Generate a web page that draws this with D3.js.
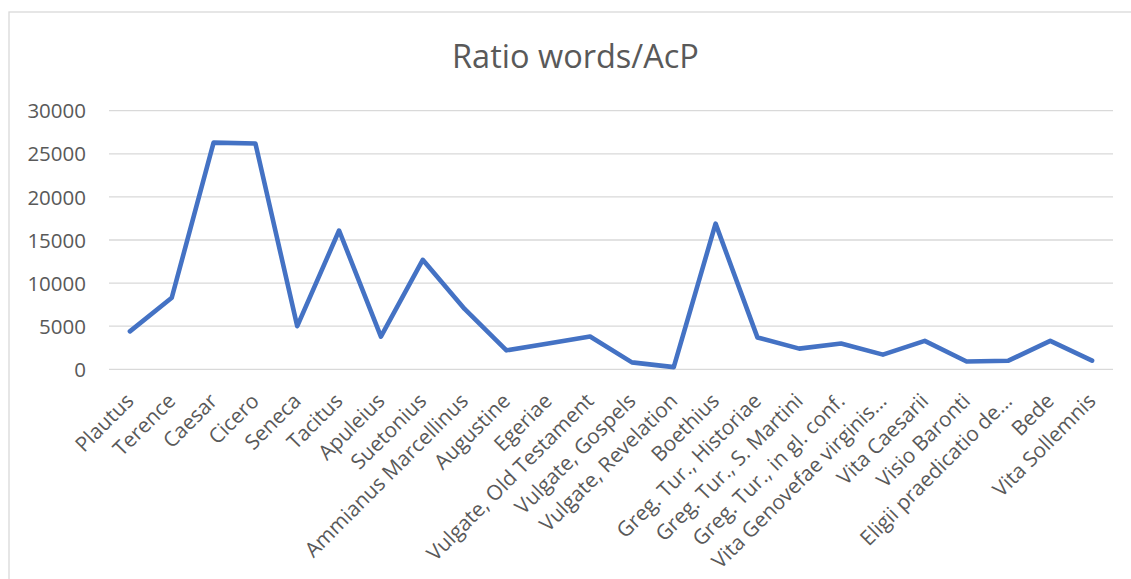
<!DOCTYPE html>
<html>
<head>
<meta charset="utf-8">
<script src="https://cdn.jsdelivr.net/npm/d3@7"></script>
<style>
  html, body { margin: 0; padding: 0; background: #ffffff; }
  svg { display: block; }
  text { font-family: "Open Sans", "Noto Sans", sans-serif; fill: #595959; }
</style>
</head>
<body>
<svg id="chart" width="1131" height="579"></svg>
<script>
// Texts in the corpus
const categories = [
  "Plautus", "Terence", "Caesar", "Cicero", "Seneca", "Tacitus", "Apuleius",
  "Suetonius", "Ammianus Marcellinus", "Augustine", "Egeriae",
  "Vulgate, Old Testament", "Vulgate, Gospels", "Vulgate, Revelation",
  "Boethius", "Greg. Tur., Historiae", "Greg. Tur., S. Martini",
  "Greg. Tur., in gl. conf.", "Vita Genovefae virginis...", "Vita Caesarii",
  "Visio Baronti", "Eligii praedicatio de...", "Bede", "Vita Sollemnis"
];

// Ratio of words per AcP for each text
const ratios = [
  4400, 8300, 26300, 26200, 5000, 16100, 3800,
  12700, 7000, 2200, 3000,
  3800, 800, 250,
  16900, 3700, 2400,
  3000, 1700, 3300,
  900, 1000, 3300, 1000
];

const yTicks = [0, 5000, 10000, 15000, 20000, 25000, 30000];
const title = "Ratio words/AcP";

const svg = d3.select("#chart");

// chart frame
svg.append("rect")
  .attr("x", 9).attr("y", 12)
  .attr("width", 1140).attr("height", 600)
  .attr("fill", "#ffffff")
  .attr("stroke", "#d9d9d9")
  .attr("stroke-width", 1.3);

const plot = { left: 109, right: 1113, top: 110.7, bottom: 369.3 };

const x = d3.scaleBand()
  .domain(categories)
  .range([plot.left, plot.right])
  .padding(0);

const y = d3.scaleLinear()
  .domain([0, 30000])
  .range([plot.bottom, plot.top]);

// horizontal gridlines
svg.append("g")
  .selectAll("line")
  .data(yTicks)
  .join("line")
  .attr("x1", plot.left).attr("x2", plot.right)
  .attr("y1", d => y(d)).attr("y2", d => y(d))
  .attr("stroke", "#d9d9d9")
  .attr("stroke-width", 1.3);

// value axis labels
const yAxis = d3.axisLeft(y).tickValues(yTicks).tickSize(0).tickPadding(0)
  .tickFormat(d3.format("d"));
svg.append("g")
  .attr("transform", `translate(86,0)`)
  .call(yAxis)
  .call(g => g.select(".domain").remove())
  .call(g => g.selectAll("text")
    .attr("font-size", 20.5)
    .attr("font-family", "'Open Sans', sans-serif")
    .attr("fill", "#595959")
    .attr("dy", "0.35em"));

// category labels, rotated
const xAxis = d3.axisBottom(x).tickSize(0).tickPadding(0);
svg.append("g")
  .attr("transform", `translate(0,${plot.bottom})`)
  .call(xAxis)
  .call(g => g.select(".domain").remove())
  .call(g => g.selectAll(".tick text")
    .attr("font-size", 20.8)
    .attr("font-family", "'Open Sans', sans-serif")
    .attr("fill", "#595959")
    .attr("text-anchor", "end")
    .attr("dy", 0)
    .attr("y", 0)
    .attr("transform", "translate(5,33) rotate(-45)"));

// the series line
const line = d3.line()
  .x((d, i) => x(categories[i]) + x.bandwidth() / 2)
  .y(d => y(d));

svg.append("path")
  .datum(ratios)
  .attr("d", line)
  .attr("fill", "none")
  .attr("stroke", "#4472c4")
  .attr("stroke-width", 4.6)
  .attr("stroke-linejoin", "round")
  .attr("stroke-linecap", "round");

// title
svg.append("text")
  .attr("x", 575.5).attr("y", 67.7)
  .attr("text-anchor", "middle")
  .attr("font-size", 32.5)
  .attr("fill", "#595959")
  .text(title);
</script>
</body>
</html>
